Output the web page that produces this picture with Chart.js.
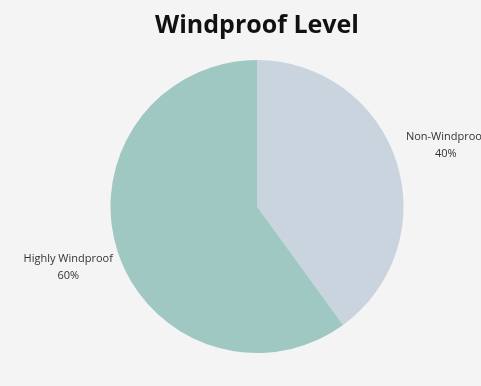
<!DOCTYPE html>
<html>
<head>
<meta charset="utf-8">
<script src="https://cdn.jsdelivr.net/npm/chart.js@4.4.0/dist/chart.umd.min.js"></script>
<style>
  html, body { margin: 0; padding: 0; background: #f4f4f4; }
  #box { width: 481px; height: 386px; }
</style>
</head>
<body>
<div id="box"><canvas id="vento"></canvas></div>
<script>
// dados do gráfico
var categorias = ['Non-Windproof', 'Highly Windproof'];
var valores = [40, 60];
var cores = ['#cad4de', '#9fc8c3'];

// rótulos fora das fatias: nome + percentual
var rotulosFora = {
    id: 'rotulosFora',
    afterDatasetsDraw: function(chart) {
        var ctx = chart.ctx;
        var meta = chart.getDatasetMeta(0);
        var total = valores.reduce(function(a, b) { return a + b; }, 0);
        ctx.save();
        ctx.fillStyle = '#333333';
        ctx.font = '11px "Open Sans", sans-serif';
        ctx.textAlign = 'center';
        ctx.textBaseline = 'middle';
        meta.data.forEach(function(arco, i) {
            var p = arco.getProps(['x', 'y', 'startAngle', 'endAngle', 'outerRadius'], true);
            var meio = (p.startAngle + p.endAngle) / 2;
            var r = p.outerRadius + 52;
            var x = p.x + Math.cos(meio) * r;
            var y = p.y + Math.sin(meio) * r;
            var pct = Math.round(valores[i] / total * 100) + '%';
            ctx.fillText(categorias[i], x, y - 8.5);
            ctx.fillText(pct, x, y + 8.5);
        });
        ctx.restore();
    }
};

var grafico = new Chart(document.getElementById('vento').getContext('2d'), {
    type: 'pie',
    data: {
        labels: categorias,
        datasets: [{
            data: valores,
            backgroundColor: cores,
            borderWidth: 0
        }]
    },
    options: {
        responsive: true,
        maintainAspectRatio: false,
        animation: false,
        layout: { padding: { top: 0, bottom: 33, left: 33, right: 0 } },
        plugins: {
            legend: { display: false },
            tooltip: { enabled: false },
            title: {
                display: true,
                text: 'Windproof Level',
                color: '#111111',
                font: { family: 'Open Sans', size: 25, weight: 'bold' },
                padding: { top: 11, bottom: 19 }
            }
        }
    },
    plugins: [rotulosFora]
});
</script>
</body>
</html>
